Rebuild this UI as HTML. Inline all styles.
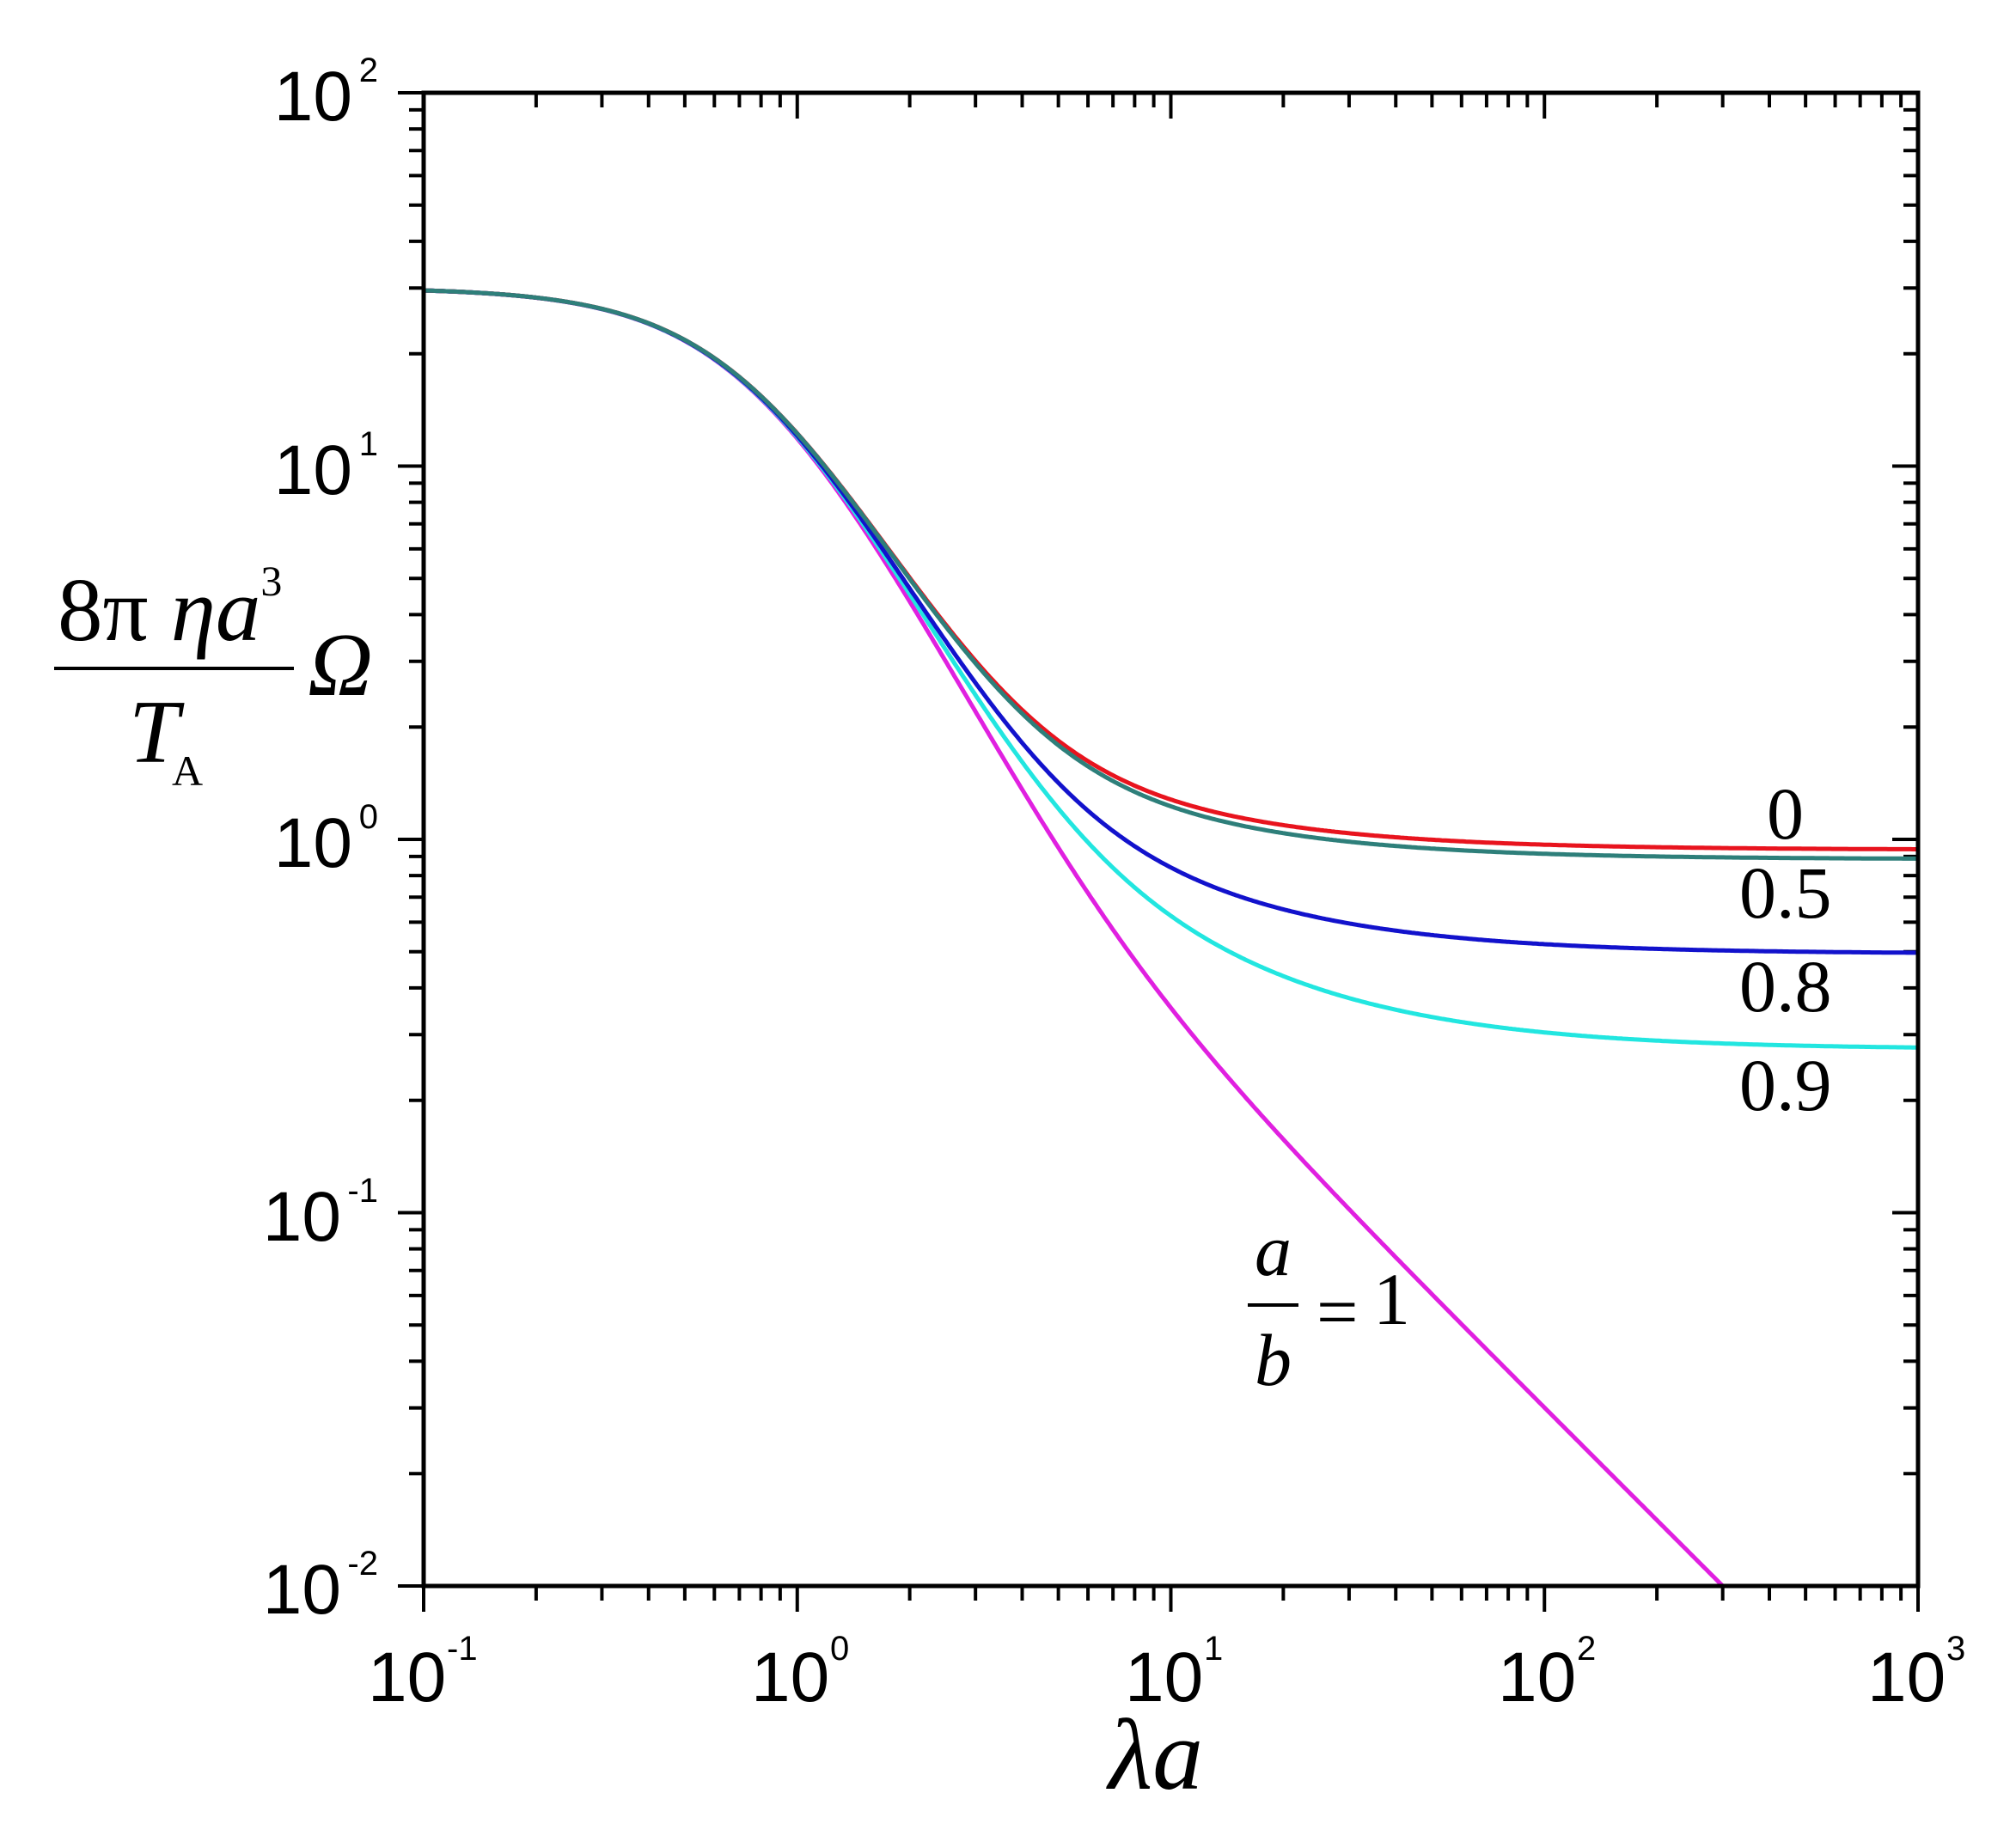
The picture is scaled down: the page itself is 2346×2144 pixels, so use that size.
<!DOCTYPE html>
<html><head><meta charset="utf-8"><style>
html,body{margin:0;padding:0;background:#fff;}
svg{display:block;}
.t{font-family:"Liberation Sans",Arial,sans-serif;fill:#000;}
.s{font-family:"Liberation Serif","Times New Roman",serif;fill:#000;}
</style></head><body>
<svg id="g" width="2346" height="2144" viewBox="0 0 2346 2144" xmlns="http://www.w3.org/2000/svg">
<defs><clipPath id="cp"><rect x="493" y="108" width="1739" height="1738"/></clipPath></defs>
<rect width="2346" height="2144" fill="#fff"/>
<g id="ticks" stroke="#000" stroke-width="4"></g>
<g id="curves" fill="none" stroke-width="5" stroke-linejoin="round" stroke-linecap="round" clip-path="url(#cp)"></g>
<rect x="493" y="108" width="1739" height="1738" fill="none" stroke="#000" stroke-width="5"/>
<g class="t" font-size="82" text-anchor="end">
<text x="410" y="140">10</text><text x="440" y="95" font-size="40">2</text>
<text x="410" y="575">10</text><text x="440" y="530" font-size="40">1</text>
<text x="410" y="1009">10</text><text x="440" y="964" font-size="40">0</text>
<text x="397" y="1444">10</text><text x="440" y="1399" font-size="40">-1</text>
<text x="397" y="1878">10</text><text x="440" y="1833" font-size="40">-2</text>
</g>
<g class="t" font-size="82">
<text x="428" y="1980">10</text><text x="520" y="1932" font-size="40">-1</text>
<text x="874" y="1980">10</text><text x="966" y="1932" font-size="40">0</text>
<text x="1309" y="1980">10</text><text x="1401" y="1932" font-size="40">1</text>
<text x="1743" y="1980">10</text><text x="1835" y="1932" font-size="40">2</text>
<text x="2173" y="1980">10</text><text x="2265" y="1932" font-size="40">3</text>
</g>
<text class="s" x="1290" y="2082" font-size="118" font-style="italic">λa</text>
<text class="s" x="67" y="745" font-size="105">8π<tspan font-style="italic"> ηa</tspan><tspan font-size="50" dy="-52">3</tspan></text>
<line x1="63" y1="778" x2="342" y2="778" stroke="#000" stroke-width="4"/>
<text class="s" x="150" y="887" font-size="105" font-style="italic">T</text>
<text class="s" x="200" y="914" font-size="50">A</text>
<text class="s" x="358" y="809" font-size="105" font-style="italic">Ω</text>
<g class="s" font-size="86">
<text x="2056" y="976">0</text>
<text x="2024" y="1068">0.5</text>
<text x="2024" y="1177">0.8</text>
<text x="2024" y="1292">0.9</text>
<text x="1460" y="1484" font-style="italic">a</text>
<text x="1460" y="1612" font-style="italic">b</text>
<text x="1532" y="1556">=</text>
<text x="1598" y="1541">1</text>
</g>
<line x1="1452" y1="1519" x2="1511" y2="1519" stroke="#000" stroke-width="4"/>
</svg>
<script>
(function(){
var NS="http://www.w3.org/2000/svg";
var L=493,R=2232,T=108,B=1846,dx=(R-L)/4,dy=(B-T)/4;
var tg=document.getElementById('ticks');
function ln(x1,y1,x2,y2){var e=document.createElementNS(NS,'line');e.setAttribute('x1',x1);e.setAttribute('y1',y1);e.setAttribute('x2',x2);e.setAttribute('y2',y2);tg.appendChild(e);}
for(var d=0;d<=4;d++){for(var m=1;m<=9;m++){if(d==4&&m>1)break;
 var f=Math.log10(m),maj=(m==1),len=maj?30:17;
 var x=L+(d+f)*dx; ln(x,B,x,B+len); ln(x,T,x,T+len);
 var y=B-(d+f)*dy; ln(L,y,L-len,y); ln(R,y,R-len,y);}}
function fm(x){return 30/(1+Math.pow(x/0.8,2))*Math.sqrt(1+Math.pow(x/6.4,2));}
function sg(x){var q=Math.pow(x/1.2,2);return q/(1+q);}
var C=[["#e020e0",0],["#22e6e0",0.274],["#1212cc",0.494],["#e8141e",0.938],["#2e7f7a",0.885]];
var cg=document.getElementById('curves');
C.forEach(function(c){
 var s="";
 for(var u=-1;u<=3.0001;u+=0.005){
  var x=Math.pow(10,u),v=Math.log10(fm(x)+c[1]*sg(x));
  var X=L+(u+1)*dx,Y=T+(2-v)*dy;
  s+=(s?" L":"M")+X.toFixed(1)+","+Y.toFixed(1);
  if(Y>B+10)break;}
 var e=document.createElementNS(NS,'path');e.setAttribute('d',s);e.setAttribute('stroke',c[0]);cg.appendChild(e);
});
})();
</script>
</body></html>
